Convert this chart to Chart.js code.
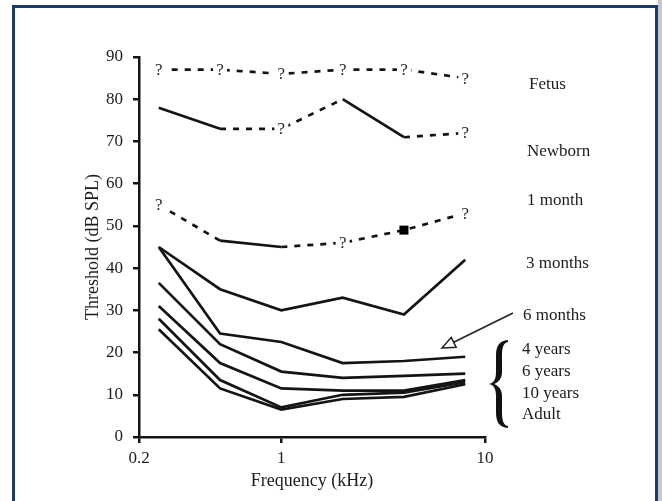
<!DOCTYPE html>
<html lang="en">

<head>
    <meta charset="UTF-8">
    <title>Hearing threshold by age</title>
    <script src="https://cdn.jsdelivr.net/npm/chart.js@4.4.0/dist/chart.umd.min.js"></script>
    <style>
        html, body { margin: 0; padding: 0; background: #fff; }
        #wrap { width: 662px; height: 501px; }
    </style>
</head>

<body>
    <div id="wrap"><canvas id="myChart" width="662" height="501"></canvas></div>
    <script>
        // frequencies in kHz
        const freqs = [0.25, 0.5, 1, 2, 4, 8];
        const xTicks = [0.2, 1, 10];

        // thresholds in dB SPL
        const fetus = [87, 87, 86, 87, 87, 85];
        const newborn = [78, 73, 73, 80, 71, 72];
        const oneMonth = [55, 46.5, 45, 46, 49, 53];
        const threeMonths = [45, 35, 30, 33, 29, 42];
        const sixMonths = [45, 24.5, 22.5, 17.5, 18, 19];
        const fourYears = [36.5, 22, 15.5, 14, 14.5, 15];
        const sixYears = [31, 17.5, 11.5, 11, 11, 13.5];
        const tenYears = [28, 13.5, 7, 10, 10.5, 13];
        const adult = [25.5, 11.5, 6.5, 9, 9.5, 12.5];

        // '?' = estimated value, 'sq' = measured point
        const fetusMarks = ['?', '?', '?', '?', '?', '?'];
        const newbornMarks = ['', '', '?', '', '', '?'];
        const oneMonthMarks = ['?', '', '', '?', 'sq', '?'];

        const INK = '#141414';
        const TEXT = '#1c1c1c';
        const SERIF = '"Liberation Serif", "DejaVu Serif", serif';

        function pts(arr) {
            return arr.map((v, i) => ({ x: freqs[i], y: v }));
        }

        // dashed[i] -> segment between point i and i+1 is dashed
        function line(label, arr, dashed, marks) {
            return {
                label: label,
                data: pts(arr),
                borderColor: INK,
                borderWidth: 2.7,
                pointRadius: 0,
                fill: false,
                tension: 0,
                marks: marks || null,
                segment: {
                    borderDash: ctx => (dashed && dashed[ctx.p0DataIndex]) ? [6, 7] : undefined
                }
            };
        }

        const extras = {
            id: 'extras',
            beforeDraw(chart) {
                const c = chart.ctx;
                c.save();
                c.fillStyle = '#fff';
                c.fillRect(0, 0, chart.width, chart.height);
                c.fillStyle = '#c8c8c8';
                c.fillRect(658, 0, 4, chart.height);
                c.fillStyle = '#1b3a6c';
                c.fillRect(12, 5, 646, 3);
                c.fillRect(12, 5, 3, chart.height - 5);
                c.fillRect(655, 5, 3, chart.height - 5);
                c.restore();
            },
            afterDatasetsDraw(chart) {
                const c = chart.ctx;
                c.save();
                c.font = '17px ' + SERIF;
                c.textAlign = 'center';
                c.textBaseline = 'middle';
                chart.data.datasets.forEach((ds, i) => {
                    if (!ds.marks) return;
                    const meta = chart.getDatasetMeta(i);
                    ds.marks.forEach((m, j) => {
                        const p = meta.data[j];
                        if (m === '?') {
                            c.fillStyle = '#fff';
                            c.fillRect(p.x - 7, p.y - 9, 14, 18);
                            c.fillStyle = '#2a2a2a';
                            c.fillText('?', p.x, p.y + 1);
                        } else if (m === 'sq') {
                            c.fillStyle = '#000';
                            c.fillRect(p.x - 4.5, p.y - 4.5, 9, 9);
                        }
                    });
                });
                c.restore();
            },
            afterDraw(chart) {
                const c = chart.ctx;
                const y = chart.scales.y;
                const right = chart.chartArea.right;
                c.save();
                c.fillStyle = TEXT;
                c.font = '17px ' + SERIF;
                c.textBaseline = 'middle';
                c.textAlign = 'left';
                const rows = [
                    ['Fetus', 83.4, 44],
                    ['Newborn', 67.5, 42],
                    ['1 month', 56.1, 42],
                    ['3 months', 41.2, 41],
                    ['6 months', 28.7, 38],
                    ['4 years', 20.6, 37],
                    ['6 years', 15.6, 37],
                    ['10 years', 10.4, 37],
                    ['Adult', 5.4, 37]
                ];
                rows.forEach(r => c.fillText(r[0], right + r[2], y.getPixelForValue(r[1])));

                // arrow from "6 months" to its curve
                const tx = 513, ty = 313, hx = 442, hy = 348;
                const ang = Math.atan2(hy - ty, hx - tx);
                const hl = 13, hw = 5.5;
                const bx = hx - hl * Math.cos(ang), by = hy - hl * Math.sin(ang);
                c.strokeStyle = '#222';
                c.lineWidth = 1.6;
                c.beginPath();
                c.moveTo(tx, ty);
                c.lineTo(bx, by);
                c.stroke();
                c.beginPath();
                c.moveTo(hx, hy);
                c.lineTo(bx + hw * Math.sin(ang), by - hw * Math.cos(ang));
                c.lineTo(bx - hw * Math.sin(ang), by + hw * Math.cos(ang));
                c.closePath();
                c.fillStyle = '#fff';
                c.fill();
                c.stroke();

                // curly brace grouping the older ages
                c.fillStyle = '#111';
                c.beginPath();
                c.moveTo(508, 340);
                c.bezierCurveTo(499, 341, 496, 346, 496, 356);
                c.lineTo(496, 372);
                c.bezierCurveTo(496, 379, 494, 383, 489, 384);
                c.bezierCurveTo(494, 385, 496, 389, 496, 396);
                c.lineTo(496, 412);
                c.bezierCurveTo(496, 422, 499, 427, 508, 428);
                c.lineTo(508, 426);
                c.bezierCurveTo(503.5, 425, 502, 421, 502, 412);
                c.lineTo(502, 396);
                c.bezierCurveTo(502, 390, 499, 386, 494, 384);
                c.bezierCurveTo(499, 382, 502, 378, 502, 372);
                c.lineTo(502, 356);
                c.bezierCurveTo(502, 347, 503.5, 343, 508, 342);
                c.closePath();
                c.fill();
                c.restore();
            }
        };

        const ctx = document.getElementById('myChart');

        new Chart(ctx, {
            type: 'line',
            data: {
                datasets: [
                    line('Fetus', fetus, [1, 1, 1, 1, 1], fetusMarks),
                    line('Newborn', newborn, [0, 1, 1, 0, 1], newbornMarks),
                    line('1 month', oneMonth, [1, 0, 1, 1, 1], oneMonthMarks),
                    line('3 months', threeMonths),
                    line('6 months', sixMonths),
                    line('4 years', fourYears),
                    line('6 years', sixYears),
                    line('10 years', tenYears),
                    line('Adult', adult)
                ]
            },
            options: {
                responsive: false,
                animation: false,
                events: [],
                layout: { padding: { left: 75, right: 177, top: 57, bottom: 0 } },
                plugins: {
                    legend: { display: false },
                    tooltip: { enabled: false }
                },
                scales: {
                    x: {
                        type: 'logarithmic',
                        min: 0.2,
                        max: 10,
                        afterBuildTicks: axis => { axis.ticks = xTicks.map(v => ({ value: v })); },
                        afterFit: axis => { axis.height = 64; },
                        border: { display: true, color: INK, width: 2.5 },
                        grid: { drawOnChartArea: false, drawTicks: true, tickLength: 6, color: INK, lineWidth: 2.5 },
                        ticks: {
                            autoSkip: false,
                            maxRotation: 0,
                            padding: 5,
                            color: TEXT,
                            font: { family: SERIF, size: 17 },
                            callback: v => String(v)
                        },
                        title: {
                            display: true,
                            text: 'Frequency (kHz)',
                            color: TEXT,
                            font: { family: SERIF, size: 18 },
                            padding: { top: 0, bottom: 9 }
                        }
                    },
                    y: {
                        min: 0,
                        max: 90,
                        afterFit: axis => { axis.width = 64; },
                        border: { display: true, color: INK, width: 2.5 },
                        grid: { drawOnChartArea: false, drawTicks: true, tickLength: 6, color: INK, lineWidth: 2.5 },
                        ticks: {
                            stepSize: 10,
                            padding: 10,
                            color: TEXT,
                            font: { family: SERIF, size: 17 }
                        },
                        title: {
                            display: true,
                            text: 'Threshold (dB SPL)',
                            color: TEXT,
                            font: { family: SERIF, size: 18 },
                            padding: { top: 7, bottom: 0 }
                        }
                    }
                }
            },
            plugins: [extras]
        });
    </script>
</body>

</html>
